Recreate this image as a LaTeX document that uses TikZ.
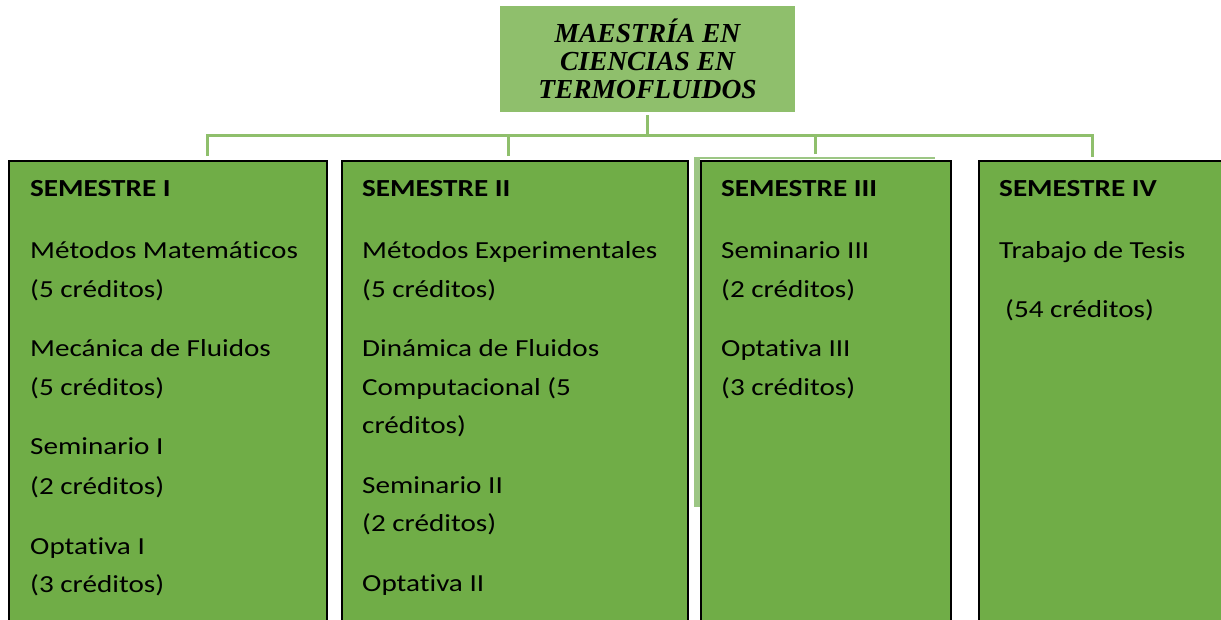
\documentclass[tikz,border=0pt]{standalone}
\usepackage{fontspec}
\setmainfont{Carlito}[FakeStretch=1.19, Ligatures=NoCommon]
\newfontfamily\titlefont{Liberation Serif}
\definecolor{boxgreen}{HTML}{70AD47}
\definecolor{lightgreen}{HTML}{8FBF6C}
\definecolor{stripegreen}{HTML}{9CC684}
\tikzset{
  titlebox/.style={fill=lightgreen, draw=none, minimum width=295pt, minimum height=106pt, inner sep=0pt,
    align=center, font=\titlefont\bfseries\itshape\fontsize{27.5}{28}\selectfont},
  sembox/.style={fill=boxgreen, draw=black, line width=2pt, anchor=north west, minimum height=480pt, inner sep=0pt},
  conn/.style={draw=lightgreen, line width=3pt},
  line/.style={anchor=base west, inner sep=0pt, font=\fontsize{24.5}{29}\selectfont},
  head/.style={line, font=\bfseries\fontsize{24.5}{29}\selectfont}
}
\begin{document}
\begin{tikzpicture}[x=1pt,y=-1pt]
\useasboundingbox (0,0) rectangle (1221,619);
\clip (0,0) rectangle (1221,619);
% title
\node[titlebox] (title) at (647.5,59) {MAESTRÍA EN\\CIENCIAS EN\\TERMOFLUIDOS};
% connectors
\coordinate (stub) at (647,115);
\coordinate (bus) at (647,135);
\coordinate (d1) at (207,156);
\coordinate (d2) at (508,156);
\coordinate (d3) at (815,154);
\coordinate (d4) at (1092,157);
\draw[conn] (stub) -- (bus);
\draw[conn] (d1) -- (d1 |- bus) -- (d4 |- bus) -- (d4);
\draw[conn] (d2) -- (d2 |- bus);
\draw[conn] (d3) -- (d3 |- bus);
% stripe artifact
\fill[stripegreen] (694,158) rectangle (700,507);
\draw[stripegreen, line width=1.5pt] (694,158) -- (935,158);
% semester boxes
\node[sembox, minimum width=318pt] (s1) at (8,160) {};
\node[sembox, minimum width=346pt] (s2) at (341,160) {};
\node[sembox, minimum width=250pt] (s3) at (700,160) {};
\node[sembox, minimum width=300pt] (s4) at (978,160) {};
% semester I
\node[head] (h1) at (30,196) {SEMESTRE I};
\node[line] (a1) at (30,258) {Métodos Matemáticos};
\node[line] (a2) at (30,297) {(5 créditos)};
\node[line] (a3) at (30,356) {Mecánica de Fluidos};
\node[line] (a4) at (30,395) {(5 créditos)};
\node[line] (a5) at (30,454) {Seminario I};
\node[line] (a6) at (30,494) {(2 créditos)};
\node[line] (a7) at (30,554) {Optativa I};
\node[line] (a8) at (30,592) {(3 créditos)};
% semester II
\node[head] (h2) at (362,196) {SEMESTRE II};
\node[line] (b1) at (362,258) {Métodos Experimentales};
\node[line] (b2) at (362,297) {(5 créditos)};
\node[line] (b3) at (362,356) {Dinámica de Fluidos};
\node[line] (b4) at (362,395) {Computacional (5};
\node[line] (b5) at (362,433) {créditos)};
\node[line] (b6) at (362,493) {Seminario II};
\node[line] (b7) at (362,531) {(2 créditos)};
\node[line] (b8) at (362,591) {Optativa II};
\node[line] (b9) at (362,638) {(5 créditos)};
% semester III
\node[head] (h3) at (721,196) {SEMESTRE III};
\node[line] (c1) at (721,258) {Seminario III};
\node[line] (c2) at (721,297) {(2 créditos)};
\node[line] (c3) at (721,356) {Optativa III};
\node[line] (c4) at (721,395) {(3 créditos)};
% semester IV
\node[head] (h4) at (999,196) {SEMESTRE IV};
\node[line] (e1) at (999,258) {Trabajo de Tesis};
\node[line] (e2) at (1005,317) {(54 créditos)};
\end{tikzpicture}
\end{document}
